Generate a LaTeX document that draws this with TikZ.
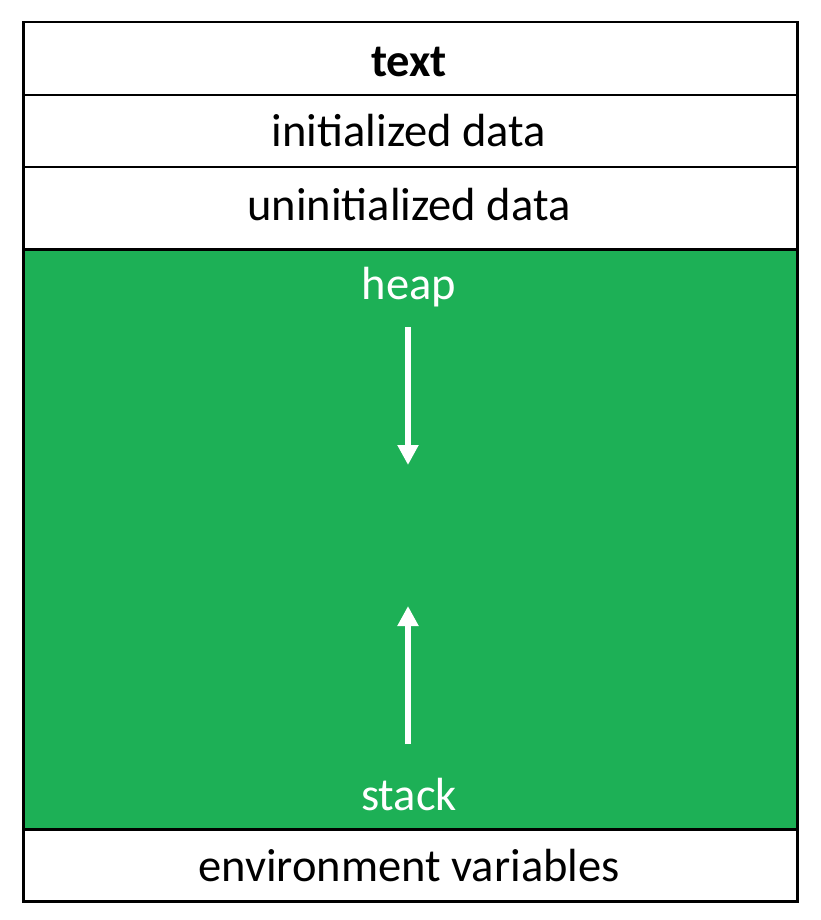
\documentclass[tikz,border=0pt]{standalone}
\usepackage{fontspec}
\setmainfont{Carlito}
\usetikzlibrary{arrows.meta}
\definecolor{seggreen}{RGB}{29,176,86}
\begin{document}
\begin{tikzpicture}[x=1pt,y=-1pt,
  rowbox/.style={draw=black,line width=2.5pt,minimum width=774pt,inner sep=0pt,anchor=north west},
  lbl/.style={font=\fontsize{46.5}{50}\selectfont},
  growarrow/.style={draw=white,line width=6pt,-{Triangle[width=20pt,length=20pt]}}]
\useasboundingbox (0,0) rectangle (820,920);
\node[rowbox,minimum height=73pt] (textrow) at (22,21) {};
\node[rowbox,minimum height=72pt] (initrow) at (22,94) {};
\node[rowbox,minimum height=82pt] (uninitrow) at (22,166) {};
\node[rowbox,minimum height=580pt,fill=seggreen] (freerow) at (22,248) {};
\node[rowbox,minimum height=72pt] (envrow) at (22,828) {};
\node[lbl,font=\fontsize{46.5}{50}\selectfont\bfseries] (textlbl) at (409,62) {text};
\node[lbl] (initlbl) at (409,131) {initialized data};
\node[lbl] (uninitlbl) at (409,205) {uninitialized data};
\node[lbl,text=white] (heaplbl) at (409,287) {heap};
\node[lbl,text=white] (stacklbl) at (409,795) {stack};
\node[lbl] (envlbl) at (409,866) {environment variables};
\coordinate (heapstart) at (408,327);
\coordinate (heapend) at (408,465);
\coordinate (stackstart) at (408,744);
\coordinate (stackend) at (408,606);
\draw[growarrow] (heapstart) -- (heapend);
\draw[growarrow] (stackstart) -- (stackend);
\end{tikzpicture}
\end{document}
